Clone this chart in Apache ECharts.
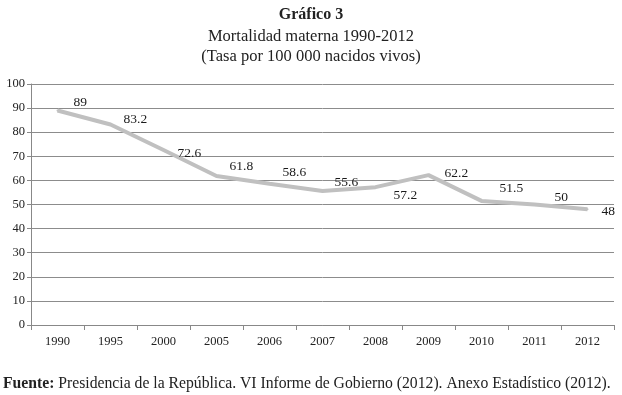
<!DOCTYPE html>
<html>
<head>
<meta charset="utf-8">
<script src="https://cdn.jsdelivr.net/npm/echarts@6/dist/echarts.min.js"></script>
<style>
  html, body { margin: 0; padding: 0; background: #fff; }
  #plot { width: 622px; height: 395px; }
</style>
</head>
<body>
<div id="plot"></div>
<script>
// datos
var years = ['1990', '1995', '2000', '2005', '2006', '2007', '2008', '2009', '2010', '2011', '2012'];
var tasa = [89, 83.2, 72.6, 61.8, 58.6, 55.6, 57.2, 62.2, 51.5, 50, 48];

// desplazamiento de etiquetas (estilo, no datos)
var labelOffsets = [[7, -8], [4, -5], [5, 3], [4, -10], [4, -11], [3, -9], [9, 8], [7, -2], [9, -12], [11, -7], [5, 2]];

var serif = '"Liberation Serif", "DejaVu Serif", serif';

var myChart = echarts.init(document.getElementById('plot'));

var option = {
  animation: false,
  backgroundColor: '#fff',
  title: [{
    text: 'Gráfico 3',
    left: 'center', top: 2,
    textStyle: { fontFamily: serif, fontSize: 16, fontWeight: 'bold', color: '#222' }
  }, {
    text: 'Mortalidad materna 1990-2012\n(Tasa por 100 000 nacidos vivos)',
    left: 'center', top: 22,
    textStyle: { fontFamily: serif, fontSize: 16.5, fontWeight: 'normal', color: '#222', lineHeight: 20 }
  }, {
    text: '{b|Fuente:} Presidencia de la República. VI Informe de Gobierno (2012). Anexo Estadístico (2012).',
    left: 3, top: 376, padding: 0,
    textStyle: {
      fontFamily: serif, fontSize: 15.7, fontWeight: 'normal', color: '#222',
      rich: { b: { fontFamily: serif, fontSize: 15.7, fontWeight: 'bold', color: '#222' } }
    }
  }],
  grid: { left: 31, right: 8, top: 84, bottom: 70, containLabel: false },
  xAxis: {
    type: 'category',
    data: years,
    boundaryGap: true,
    axisLine: { lineStyle: { color: '#888' } },
    axisTick: { show: true, length: 5, lineStyle: { color: '#888' } },
    axisLabel: { fontFamily: serif, fontSize: 12.5, color: '#222', margin: 10 }
  },
  yAxis: {
    type: 'value',
    min: 0, max: 100, interval: 10,
    axisLine: { show: true, lineStyle: { color: '#888' } },
    axisTick: { show: true, length: 4, lineStyle: { color: '#888' } },
    axisLabel: { fontFamily: serif, fontSize: 12.5, color: '#222', margin: 6 },
    splitLine: { lineStyle: { color: '#8c8c8c', width: 1 } }
  },
  series: [{
    type: 'line',
    data: tasa.map(function (v, i) {
      return { value: v, label: { offset: labelOffsets[i] } };
    }),
    symbol: 'circle',
    symbolSize: 2,
    showSymbol: true,
    itemStyle: { color: '#c0c0c0' },
    lineStyle: { color: '#c0c0c0', width: 4 },
    label: {
      show: true,
      position: 'right',
      distance: 8,
      fontFamily: serif, fontSize: 13.5, color: '#1a1a1a'
    }
  }]
};

myChart.setOption(option);
</script>
</body>
</html>
